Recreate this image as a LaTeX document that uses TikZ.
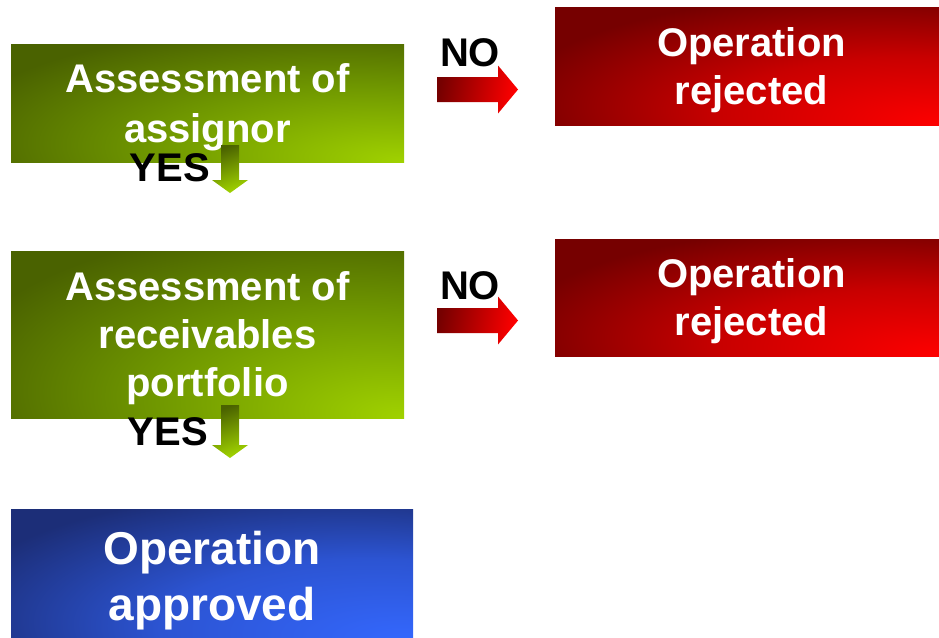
\documentclass[tikz,border=0pt]{standalone}
\usepackage{fontspec}
\setmainfont{Liberation Sans}
\definecolor{greendark}{RGB}{74,98,0}
\definecolor{greenmid}{RGB}{112,152,0}
\definecolor{greenlight}{RGB}{160,210,0}
\definecolor{reddark}{RGB}{118,0,0}
\definecolor{redmid}{RGB}{200,0,0}
\definecolor{redlight}{RGB}{255,0,0}
\definecolor{bluedark}{RGB}{28,46,120}
\definecolor{bluemid}{RGB}{44,84,210}
\definecolor{bluelight}{RGB}{52,104,255}
\pgfdeclareradialshading{greenglow}{\pgfpoint{25bp}{-25bp}}{color(0bp)=(greenlight);
    color(26bp)=(greenmid); color(48bp)=(greendark); color(120bp)=(greendark)}
\pgfdeclareradialshading{redglow}{\pgfpoint{25bp}{-25bp}}{color(0bp)=(redlight);
    color(24bp)=(redmid); color(46bp)=(reddark); color(120bp)=(reddark)}
\pgfdeclareradialshading{blueglow}{\pgfpoint{25bp}{-25bp}}{color(0bp)=(bluelight);
    color(26bp)=(bluemid); color(48bp)=(bluedark); color(120bp)=(bluedark)}

\begin{document}
\begin{tikzpicture}[x=1pt,y=1pt,
    box/.style={inner sep=0pt, align=center, text=white, text depth=0pt,
        font=\fontsize{40}{48}\selectfont\bfseries},
    checkbox/.style={box, minimum width=393pt, shade, shading=greenglow},
    rejectbox/.style={box, minimum width=393pt, minimum height=118pt, shade, shading=redglow},
    approvebox/.style={box, minimum width=402pt, minimum height=134pt,
        font=\fontsize{46}{56}\selectfont\bfseries, shade, shading=blueglow},
    answer/.style={inner sep=0pt, font=\fontsize{40}{48}\selectfont\bfseries},
    noarrow/.style={shade, left color=reddark, right color=redlight, shading angle=80},
    yesarrow/.style={shade, top color=greendark, bottom color=greenlight, shading angle=20}]
    \useasboundingbox (0,0) rectangle (939,-637);
    % the boxes
    \node[checkbox, minimum height=118pt] (assignor) at (207.5,-103) {Assessment of\\[2pt]assignor};
    \node[checkbox, minimum height=167pt] (portfolio) at (207.5,-334.5) {Assessment of\\receivables\\portfolio};
    \node[rejectbox] (reject1) at (751.5,-66) {Operation\\rejected};
    \node[rejectbox, minimum height=117pt] (reject2) at (751.5,-297.5) {Operation\\rejected};
    \node[approvebox] (approved) at (212,-576) {Operation\\approved};
    % the arrows
    \coordinate (noa1) at (437,-89.5);
    \coordinate (noa2) at (437,-320.5);
    \coordinate (yesa1) at (230,-145);
    \coordinate (yesa2) at (230,-405);
    \foreach \p in {noa1,noa2}
        \shade[noarrow] (\p) ++(0,12.5) -- ++(61,0) -- ++(0,11.5) -- ++(20,-24)
            -- ++(-20,-24) -- ++(0,11.5) -- ++(-61,0) -- cycle;
    \shade[yesarrow] (yesa1) ++(-9,0) -- ++(0,-35) -- ++(-9,0) -- ++(18,-13)
        -- ++(18,13) -- ++(-9,0) -- ++(0,35) -- cycle;
    \shade[yesarrow] (yesa2) ++(-9,0) -- ++(0,-40) -- ++(-9,0) -- ++(18,-13)
        -- ++(18,13) -- ++(-9,0) -- ++(0,40) -- cycle;
    % the answers
    \node[answer] (no1) at (470,-53) {NO};
    \node[answer] (no2) at (470,-286) {NO};
    \node[answer] (yes1) at (170,-168) {YES};
    \node[answer] (yes2) at (168,-432) {YES};
\end{tikzpicture}
\end{document}
